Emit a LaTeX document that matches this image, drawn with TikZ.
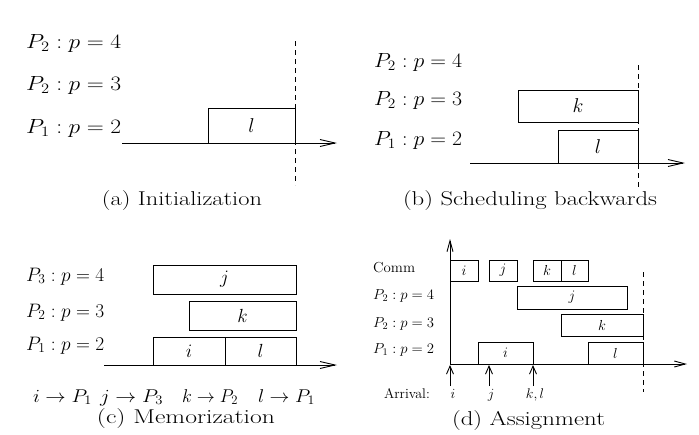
\RequirePackage{fix-cm}
\documentclass[tikz,border=0pt]{standalone}
\usepackage{fontspec}
\usetikzlibrary{arrows.meta}
\newcommand{\fitw}[2]{\resizebox{#1}{\height}{#2}}
\tikzset{
  lab/.style={anchor=base west, inner sep=0pt, font=\fontsize{20.5}{24}\selectfont},
  labc/.style={anchor=base west, inner sep=0pt, font=\fontsize{19.5}{23}\selectfont},
  labs/.style={anchor=base west, inner sep=0pt, font=\fontsize{14.5}{17}\selectfont},
  arrlab/.style={anchor=base, inner sep=0pt, font=\fontsize{14}{17}\selectfont},
  maplab/.style={anchor=base, inner sep=0pt, font=\fontsize{18.5}{22}\selectfont},
  subcaption/.style={anchor=base, inner sep=0pt, font=\fontsize{20}{24}\selectfont},
  task/.style={draw, line width=0.9pt, inner sep=0pt, font=\fontsize{20}{24}\selectfont},
  taskc/.style={task, font=\fontsize{19}{22}\selectfont},
  tasks/.style={task, font=\fontsize{14.5}{17}\selectfont},
  axis/.style={line width=0.9pt, -{Straight Barb[length=15pt,width=7pt]}},
  axiss/.style={line width=0.9pt, -{Straight Barb[length=11pt,width=6pt]}},
  arrival/.style={line width=0.9pt, -{Straight Barb[length=8pt,width=7pt]}},
  deadline/.style={line width=0.9pt, dash pattern=on 5pt off 4pt},
}
\begin{document}
\begin{tikzpicture}[x=1pt,y=-1pt]
\useasboundingbox (0,0) rectangle (699,434);

% ---------- (a) Initialization ----------
\node[lab] (a4) at (26,48) {\fitw{95pt}{$P_2 : p = 4$}};
\node[lab] (a3) at (26,90) {\fitw{95pt}{$P_2 : p = 3$}};
\node[lab] (a2) at (26,133) {\fitw{95pt}{$P_1 : p = 2$}};
\node[task, minimum width=87pt, minimum height=35pt] (al) at (251.5,125.5) {$l$};
\coordinate (ax0) at (122,143);
\coordinate (ax1) at (337,143);
\draw[axis] (ax0) -- (ax1);
\coordinate (ad0) at (295,41);
\coordinate (ad1) at (295,185);
\draw[deadline] (ad0) -- (ad1);
\node[subcaption] (capa) at (182,205) {\fitw{160pt}{(a) Initialization}};

% ---------- (b) Scheduling backwards ----------
\node[lab] (b4) at (374,67) {\fitw{88pt}{$P_2 : p = 4$}};
\node[lab] (b3) at (374,105) {\fitw{88pt}{$P_2 : p = 3$}};
\node[lab] (b2) at (374,145) {\fitw{88pt}{$P_1 : p = 2$}};
\node[task, minimum width=120pt, minimum height=32pt] (bk) at (578,106) {$k$};
\node[task, minimum width=80pt, minimum height=33pt] (bl) at (598,146.5) {$l$};
\coordinate (bx0) at (470,163);
\coordinate (bx1) at (685,163);
\draw[axis] (bx0) -- (bx1);
\coordinate (bd0) at (638,65);
\coordinate (bd1) at (638,187);
\draw[deadline] (bd0) -- (bd1);
\node[subcaption] (capb) at (530,205) {\fitw{254pt}{(b) Scheduling backwards}};

% ---------- (c) Memorization ----------
\node[labc] (c4) at (26,281) {\fitw{78pt}{$P_3 : p = 4$}};
\node[labc] (c3) at (26,317) {\fitw{78pt}{$P_2 : p = 3$}};
\node[labc] (c2) at (26,350) {\fitw{78pt}{$P_1 : p = 2$}};
\node[taskc, minimum width=143pt, minimum height=29pt] (cj) at (224.5,279.5) {$j$};
\node[taskc, minimum width=107pt, minimum height=29pt] (ck) at (242.5,315.5) {$k$};
\node[taskc, minimum width=72pt, minimum height=28pt] (ci) at (189,351) {$i$};
\node[taskc, minimum width=71pt, minimum height=28pt] (cl) at (260.5,351) {$l$};
\coordinate (cx0) at (104,365);
\coordinate (cx1) at (337,365);
\draw[axis] (cx0) -- (cx1);
\node[maplab] (m1) at (62.5,402) {\fitw{59pt}{$i \rightarrow P_1$}};
\node[maplab] (m2) at (131.5,402) {\fitw{63pt}{$j \rightarrow P_3$}};
\node[maplab] (m3) at (210,402) {\fitw{56pt}{$k \rightarrow P_2$}};
\node[maplab] (m4) at (286.5,402) {\fitw{57pt}{$l \rightarrow P_1$}};
\node[subcaption] (capc) at (186,423) {\fitw{178pt}{(c) Memorization}};

% ---------- (d) Assignment ----------
\node[labs] (dc) at (373,272) {\fitw{42pt}{Comm}};
\node[labs] (d4) at (373,299) {\fitw{61pt}{$P_2 : p = 4$}};
\node[labs] (d3) at (373,327) {\fitw{61pt}{$P_2 : p = 3$}};
\node[labs] (d2) at (373,353) {\fitw{61pt}{$P_1 : p = 2$}};
\node[tasks, minimum width=28pt, minimum height=21pt] (dci) at (464,270.5) {$i$};
\node[tasks, minimum width=28pt, minimum height=21pt] (dcj) at (503,270.5) {$j$};
\node[tasks, minimum width=28pt, minimum height=21pt] (dck) at (547,270.5) {$k$};
\node[tasks, minimum width=27pt, minimum height=21pt] (dcl) at (574.5,270.5) {$l$};
\node[tasks, minimum width=110pt, minimum height=23pt] (dj) at (572,297.5) {$j$};
\node[tasks, minimum width=82pt, minimum height=22pt] (dk) at (602,325) {$k$};
\node[tasks, minimum width=55pt, minimum height=22pt] (di) at (505.5,353) {$i$};
\node[tasks, minimum width=55pt, minimum height=22pt] (dl) at (615.5,353) {$l$};
\coordinate (dx0) at (450,364);
\coordinate (dx1) at (687,364);
\coordinate (dy1) at (450,239);
\draw[axiss] (dx0) -- (dx1);
\draw[axiss] (dx0) -- (dy1);
\coordinate (dd0) at (643,272);
\coordinate (dd1) at (643,392);
\draw[deadline] (dd0) -- (dd1);
\coordinate (r1s) at (450,386);
\coordinate (r1e) at (450,365);
\coordinate (r2s) at (489,386);
\coordinate (r2e) at (489,365);
\coordinate (r3s) at (533,386);
\coordinate (r3e) at (533,365);
\draw[arrival] (r1s) -- (r1e);
\draw[arrival] (r2s) -- (r2e);
\draw[arrival] (r3s) -- (r3e);
\node[arrlab, anchor=base east] (arr) at (430,398) {Arrival:};
\node[arrlab] (ari) at (453,398) {$i$};
\node[arrlab] (arj) at (491,398) {$j$};
\node[arrlab] (arkl) at (535,398) {$k, l$};
\node[subcaption] (capd) at (528.5,425) {\fitw{153pt}{(d) Assignment}};
\end{tikzpicture}
\end{document}
